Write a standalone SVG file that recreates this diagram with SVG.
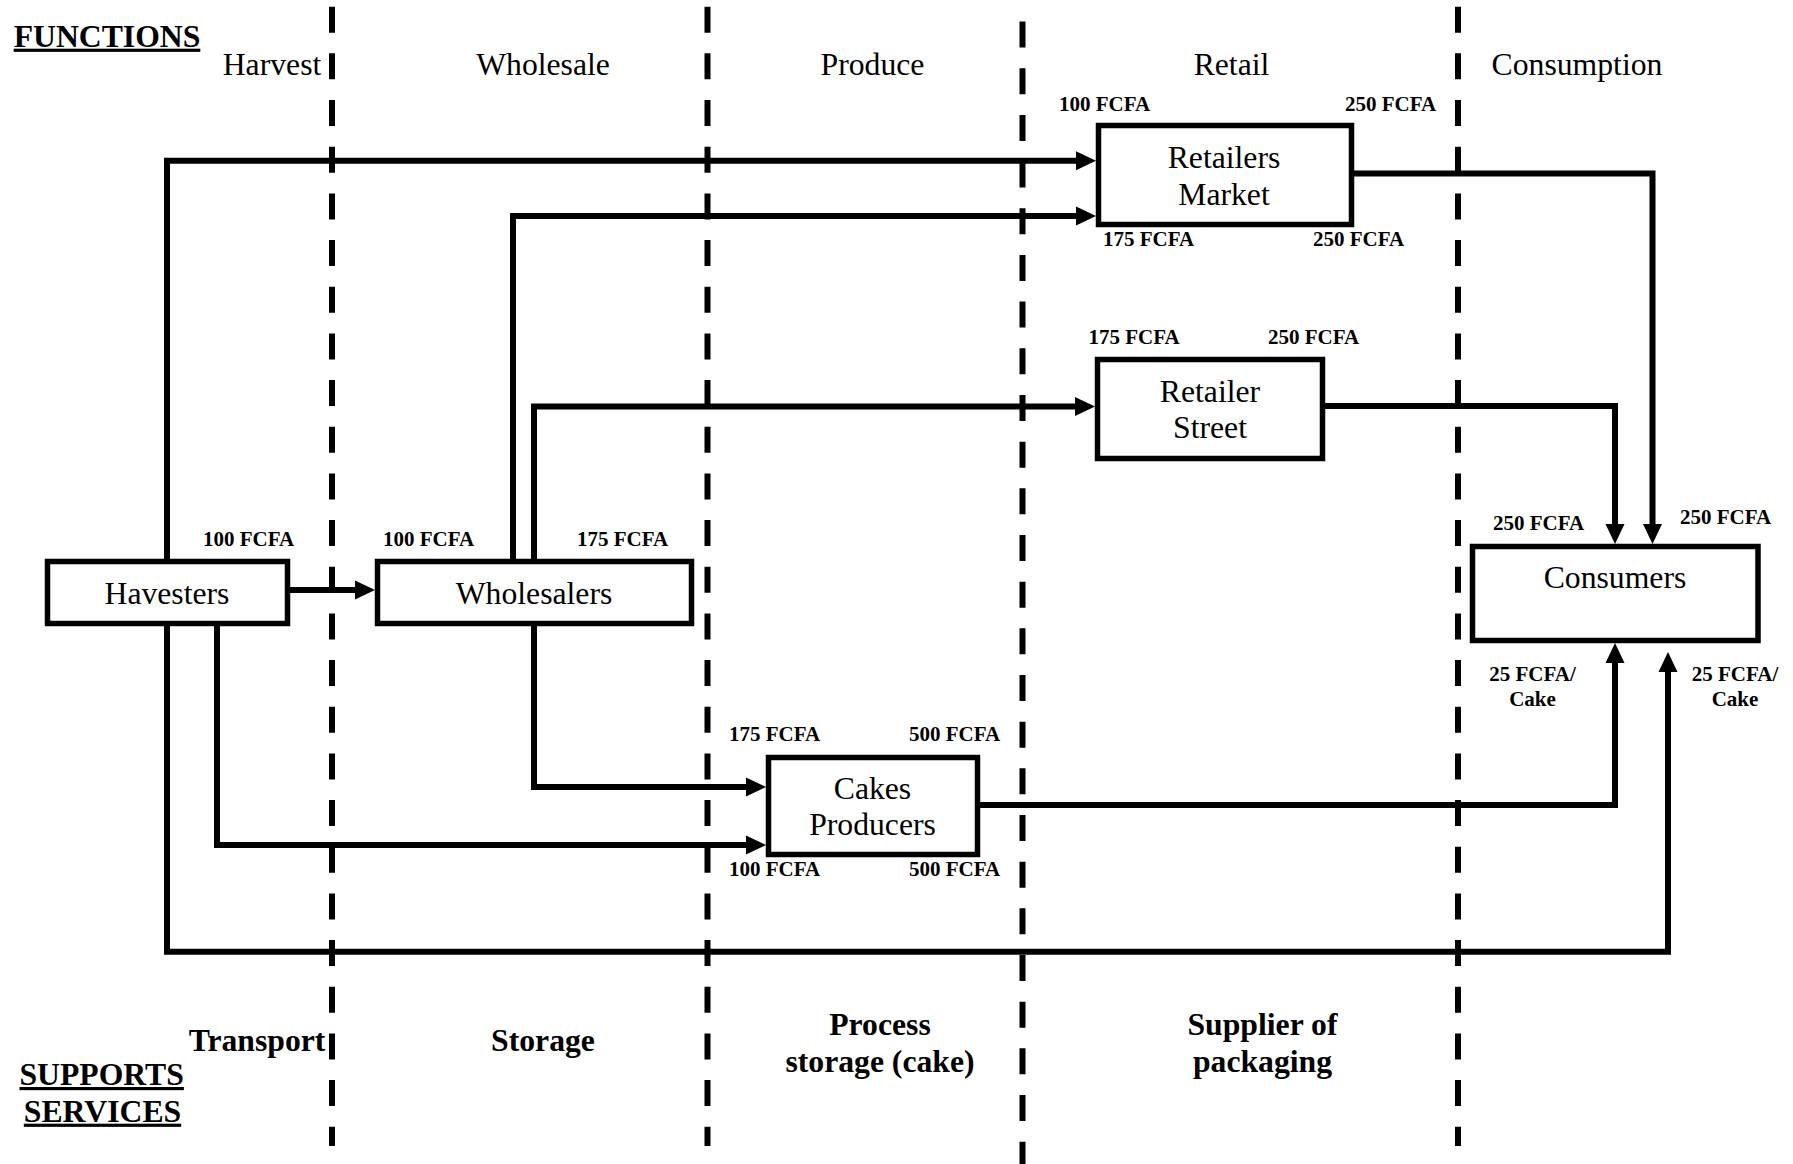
<svg xmlns="http://www.w3.org/2000/svg" width="1793" height="1164" viewBox="0 0 1793 1164">
<style>
text{font-family:"Liberation Serif","Times New Roman",serif;fill:#000}
.h{font-size:31.7px;text-anchor:middle}
.b{font-size:31.7px;font-weight:bold;text-anchor:middle}
.u{text-decoration:underline;text-decoration-thickness:3.5px}
.l{font-size:21px;font-weight:bold}
.lc{font-size:21px;font-weight:bold;text-anchor:middle}
.box{fill:#fff;stroke:#000;stroke-width:5.5}
.div{fill:none;stroke:#000;stroke-width:6;stroke-dasharray:26 20.67}
.c{fill:none;stroke:#000;stroke-width:6;stroke-linejoin:miter;stroke-linecap:butt;marker-end:url(#ah)}
.cn{fill:none;stroke:#000;stroke-width:6;stroke-linejoin:miter}
</style>
<defs>
<marker id="ah" markerUnits="userSpaceOnUse" markerWidth="22" markerHeight="20" refX="10" refY="9.5" orient="auto" overflow="visible">
<path d="M0,0 L20,9.5 L0,19 Z" fill="#000"/>
</marker>
</defs>
<rect width="1793" height="1164" fill="#fff"/>

<g id="dividers">
<line class="div" x1="332" y1="6.7" x2="332" y2="1146"/>
<line class="div" x1="707.5" y1="6.7" x2="707.5" y2="1146"/>
<line class="div" x1="1022.5" y1="21.6" x2="1022.5" y2="1164"/>
<line class="div" x1="1458" y1="6.7" x2="1458" y2="1146"/>
</g>

<g id="headers">
<text class="b u" x="107" y="46.7">FUNCTIONS</text>
<text class="h" x="272" y="75">Harvest</text>
<text class="h" x="543" y="75">Wholesale</text>
<text class="h" x="872.5" y="75">Produce</text>
<text class="h" x="1231.5" y="75">Retail</text>
<text class="h" x="1577" y="75">Consumption</text>
</g>

<g id="connectors">
<path class="c" d="M167,559 V160.7 H1086"/>
<path class="c" d="M513,559 V216 H1086"/>
<path class="c" d="M534,559 V406.5 H1085"/>
<path class="c" d="M290,590 H365"/>
<path class="c" d="M534,626 V787 H756"/>
<path class="c" d="M217,626 V845 H756"/>
<path class="c" d="M167,626 V951.7 H1668 V662"/>
<path class="c" d="M980,805 H1615 V653"/>
<path class="c" d="M1354,173.5 H1652.5 V534"/>
<path class="c" d="M1325,406 H1615 V534"/>
</g>

<g id="havesters">
<rect class="box" x="47.5" y="561.5" width="240" height="62"/>
<text class="h" x="167" y="603.5">Havesters</text>
<text class="l" x="203" y="546">100 FCFA</text>
</g>

<g id="wholesalers">
<rect class="box" x="377.5" y="561.5" width="314" height="62"/>
<text class="h" x="534" y="603.5">Wholesalers</text>
<text class="l" x="383" y="546">100 FCFA</text>
<text class="l" x="577" y="546">175 FCFA</text>
</g>

<g id="retailers-market">
<rect class="box" x="1098.5" y="125.5" width="253" height="99"/>
<text class="h" x="1224" y="168.3">Retailers</text>
<text class="h" x="1224" y="205">Market</text>
<text class="l" x="1059" y="111">100 FCFA</text>
<text class="l" x="1345" y="111">250 FCFA</text>
<text class="l" x="1103" y="246">175 FCFA</text>
<text class="l" x="1313" y="246">250 FCFA</text>
</g>

<g id="retailer-street">
<rect class="box" x="1097.5" y="359.5" width="225" height="99"/>
<text class="h" x="1210" y="401.7">Retailer</text>
<text class="h" x="1210" y="438.3">Street</text>
<text class="l" x="1088.5" y="344">175 FCFA</text>
<text class="l" x="1268" y="344">250 FCFA</text>
</g>

<g id="consumers">
<rect class="box" x="1472.5" y="546.5" width="285.5" height="94"/>
<text class="h" x="1615" y="588.3">Consumers</text>
<text class="l" x="1493" y="530">250 FCFA</text>
<text class="l" x="1680" y="524">250 FCFA</text>
<text class="lc" x="1532.5" y="681">25 FCFA/</text>
<text class="lc" x="1532.5" y="706">Cake</text>
<text class="lc" x="1735" y="681">25 FCFA/</text>
<text class="lc" x="1735" y="706">Cake</text>
</g>

<g id="cakes-producers">
<rect class="box" x="768.5" y="757.5" width="209" height="97"/>
<text class="h" x="872.5" y="799">Cakes</text>
<text class="h" x="872.5" y="835">Producers</text>
<text class="l" x="729" y="740.7">175 FCFA</text>
<text class="l" x="909" y="740.7">500 FCFA</text>
<text class="l" x="729" y="876">100 FCFA</text>
<text class="l" x="909" y="876">500 FCFA</text>
</g>

<g id="support-services">
<text class="b" x="257" y="1050.7">Transport</text>
<text class="b" x="543" y="1050.7">Storage</text>
<text class="b" x="880" y="1035">Process</text>
<text class="b" x="880" y="1071.7">storage (cake)</text>
<text class="b" x="1262.5" y="1035">Supplier of</text>
<text class="b" x="1262.5" y="1072">packaging</text>
<text class="b u" x="101.7" y="1085">SUPPORTS</text>
<text class="b u" x="102.5" y="1121.7">SERVICES</text>
</g>
</svg>
